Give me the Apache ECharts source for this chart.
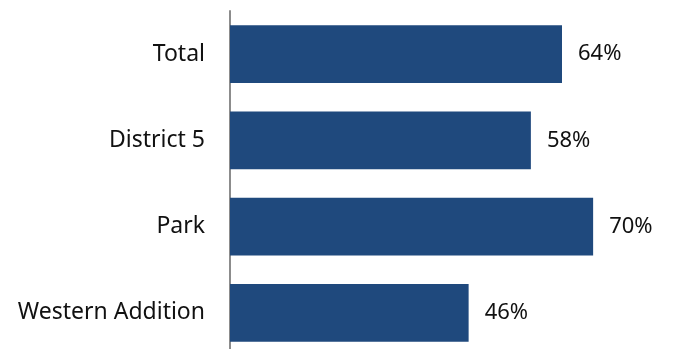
<!DOCTYPE html>
<html>
<head>
<meta charset="utf-8">
<script src="https://cdn.jsdelivr.net/npm/echarts@6/dist/echarts.min.js"></script>
<style>
  html, body { margin: 0; padding: 0; background: #fff; }
  #chart { width: 673px; height: 349px; }
</style>
</head>
<body>
<div id="chart"></div>
<script>
// Share of respondents by area (percent)
const categories = ['Total', 'District 5', 'Park', 'Western Addition'];
const values = [64, 58, 70, 46];

const chart = echarts.init(document.getElementById('chart'));
chart.setOption({
  animation: false,
  grid: {
    left: 230, right: 28, top: 11, height: 345,
    containLabel: false,
    outerBoundsMode: 'none'
  },
  xAxis: {
    type: 'value', min: 0, max: 80,
    show: false
  },
  yAxis: {
    type: 'category',
    data: categories,
    inverse: true,
    axisLine: { show: true, lineStyle: { color: '#8c8c8c', width: 2 } },
    axisTick: { show: false },
    axisLabel: {
      margin: 25,
      fontFamily: 'Noto Sans',
      fontSize: 23,
      color: '#111'
    }
  },
  series: [{
    type: 'bar',
    data: values,
    barCategoryGap: '33%',
    itemStyle: { color: '#1f497d' },
    label: {
      show: true,
      position: 'right',
      distance: 16,
      formatter: '{c}%',
      fontFamily: 'Noto Sans',
      fontSize: 22,
      color: '#111'
    }
  }]
});
</script>
</body>
</html>
